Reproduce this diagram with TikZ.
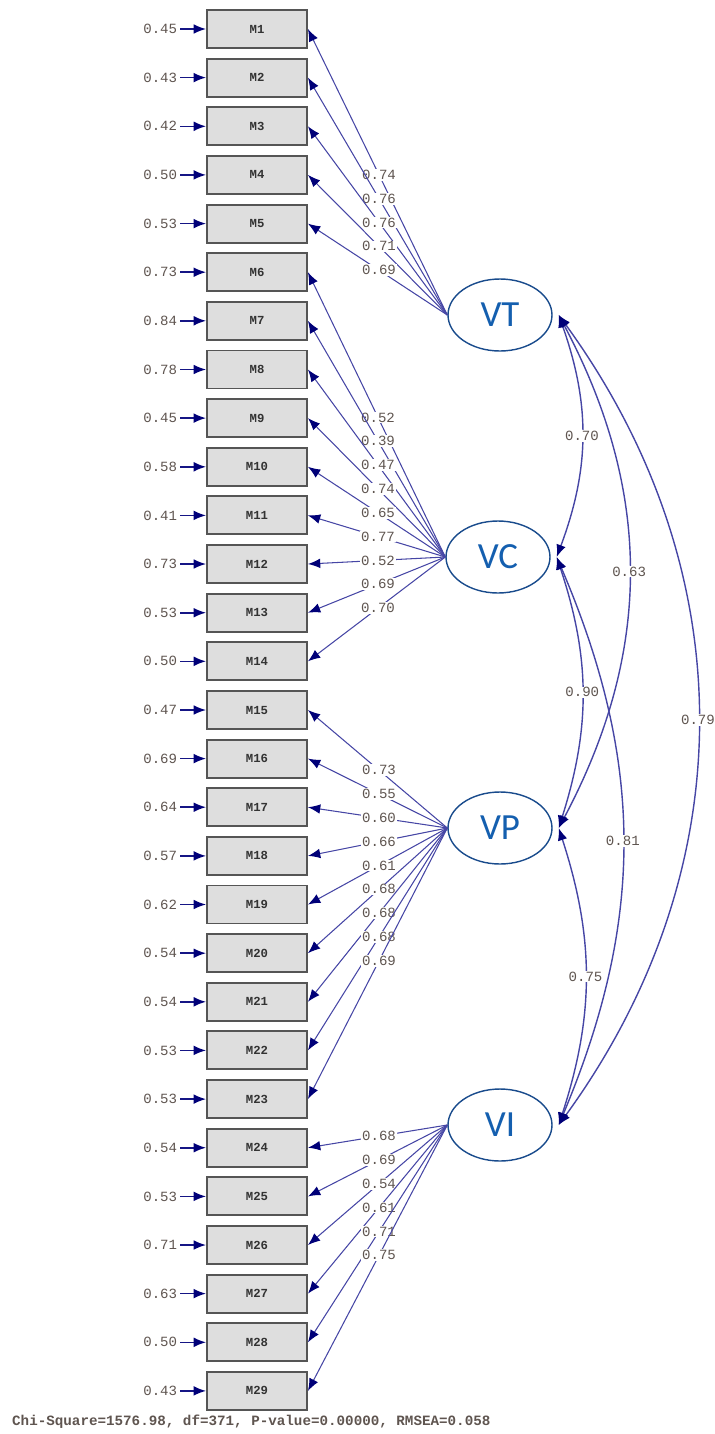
\documentclass[tikz,border=0pt]{standalone}
\usepackage{fontspec}
\setmainfont{Liberation Sans}
\newfontfamily\monofont{Liberation Mono}
\newfontfamily\latfont{Carlito}
\usetikzlibrary{shapes.geometric,arrows.meta,positioning}

\definecolor{linie}{RGB}{70,70,165}
\definecolor{spitze}{RGB}{0,0,120}
\definecolor{zahl}{RGB}{95,85,80}
\definecolor{kasten}{RGB}{222,222,222}
\definecolor{rand}{RGB}{85,85,85}
\definecolor{ellrand}{RGB}{25,75,140}
\definecolor{lattext}{RGB}{20,95,175}

\tikzset{
  mvar/.style={draw=rand, line width=1.1pt, fill=kasten, minimum width=2cm, minimum height=0.76cm, inner sep=0pt, font=\monofont\fontsize{7}{8}\selectfont\bfseries, text=black!80},
  lvar/.style={ellipse, draw=ellrand, line width=0.8pt, minimum width=2.08cm, minimum height=1.44cm, inner sep=0pt, font=\latfont\fontsize{21}{24}\selectfont, text=lattext},
  fehler/.style={font=\monofont\fontsize{8}{9}\selectfont, text=zahl, inner sep=1.5pt},
  wert/.style={fill=white, font=\monofont\fontsize{8}{9}\selectfont, text=zahl, inner sep=0.6pt},
  fpfeil/.style={draw=spitze!70!linie, line width=0.9pt, -{Latex[length=7pt,width=5.5pt,color=spitze]}},
  pfeil/.style={draw=linie, line width=0.6pt, -{Latex[length=7pt,width=5.5pt,color=spitze]}},
  kurve/.style={draw=linie, line width=0.8pt, {Latex[length=7pt,width=5.5pt,color=spitze]}-{Latex[length=7pt,width=5.5pt,color=spitze]}},
}

\begin{document}
\begin{tikzpicture}[x=0.02cm, y=-0.02cm]
    \useasboundingbox (0,0) rectangle (715,1434);

    % Indikatoren mit Fehlervarianzen
    \node[mvar] (m1) at (257,29) {M1};       \node[fehler, left=0.52cm of m1] (e1) {0.45};
    \node[mvar] (m2) at (257,77.6) {M2};     \node[fehler, left=0.52cm of m2] (e2) {0.43};
    \node[mvar] (m3) at (257,126.3) {M3};    \node[fehler, left=0.52cm of m3] (e3) {0.42};
    \node[mvar] (m4) at (257,174.9) {M4};    \node[fehler, left=0.52cm of m4] (e4) {0.50};
    \node[mvar] (m5) at (257,223.6) {M5};    \node[fehler, left=0.52cm of m5] (e5) {0.53};
    \node[mvar] (m6) at (257,272.2) {M6};    \node[fehler, left=0.52cm of m6] (e6) {0.73};
    \node[mvar] (m7) at (257,320.8) {M7};    \node[fehler, left=0.52cm of m7] (e7) {0.84};
    \node[mvar] (m8) at (257,369.5) {M8};    \node[fehler, left=0.52cm of m8] (e8) {0.78};
    \node[mvar] (m9) at (257,418.1) {M9};    \node[fehler, left=0.52cm of m9] (e9) {0.45};
    \node[mvar] (m10) at (257,466.8) {M10};  \node[fehler, left=0.52cm of m10] (e10) {0.58};
    \node[mvar] (m11) at (257,515.4) {M11};  \node[fehler, left=0.52cm of m11] (e11) {0.41};
    \node[mvar] (m12) at (257,564.0) {M12};  \node[fehler, left=0.52cm of m12] (e12) {0.73};
    \node[mvar] (m13) at (257,612.7) {M13};  \node[fehler, left=0.52cm of m13] (e13) {0.53};
    \node[mvar] (m14) at (257,661.3) {M14};  \node[fehler, left=0.52cm of m14] (e14) {0.50};
    \node[mvar] (m15) at (257,710.0) {M15};  \node[fehler, left=0.52cm of m15] (e15) {0.47};
    \node[mvar] (m16) at (257,758.6) {M16};  \node[fehler, left=0.52cm of m16] (e16) {0.69};
    \node[mvar] (m17) at (257,807.2) {M17};  \node[fehler, left=0.52cm of m17] (e17) {0.64};
    \node[mvar] (m18) at (257,855.9) {M18};  \node[fehler, left=0.52cm of m18] (e18) {0.57};
    \node[mvar] (m19) at (257,904.5) {M19};  \node[fehler, left=0.52cm of m19] (e19) {0.62};
    \node[mvar] (m20) at (257,953.2) {M20};  \node[fehler, left=0.52cm of m20] (e20) {0.54};
    \node[mvar] (m21) at (257,1001.8) {M21}; \node[fehler, left=0.52cm of m21] (e21) {0.54};
    \node[mvar] (m22) at (257,1050.4) {M22}; \node[fehler, left=0.52cm of m22] (e22) {0.53};
    \node[mvar] (m23) at (257,1099.1) {M23}; \node[fehler, left=0.52cm of m23] (e23) {0.53};
    \node[mvar] (m24) at (257,1147.7) {M24}; \node[fehler, left=0.52cm of m24] (e24) {0.54};
    \node[mvar] (m25) at (257,1196.4) {M25}; \node[fehler, left=0.52cm of m25] (e25) {0.53};
    \node[mvar] (m26) at (257,1245.0) {M26}; \node[fehler, left=0.52cm of m26] (e26) {0.71};
    \node[mvar] (m27) at (257,1293.6) {M27}; \node[fehler, left=0.52cm of m27] (e27) {0.63};
    \node[mvar] (m28) at (257,1342.3) {M28}; \node[fehler, left=0.52cm of m28] (e28) {0.50};
    \node[mvar] (m29) at (257,1390.9) {M29}; \node[fehler, left=0.52cm of m29] (e29) {0.43};

    \draw[fpfeil] (e1) -- (m1);   \draw[fpfeil] (e2) -- (m2);   \draw[fpfeil] (e3) -- (m3);
    \draw[fpfeil] (e4) -- (m4);   \draw[fpfeil] (e5) -- (m5);   \draw[fpfeil] (e6) -- (m6);
    \draw[fpfeil] (e7) -- (m7);   \draw[fpfeil] (e8) -- (m8);   \draw[fpfeil] (e9) -- (m9);
    \draw[fpfeil] (e10) -- (m10); \draw[fpfeil] (e11) -- (m11); \draw[fpfeil] (e12) -- (m12);
    \draw[fpfeil] (e13) -- (m13); \draw[fpfeil] (e14) -- (m14); \draw[fpfeil] (e15) -- (m15);
    \draw[fpfeil] (e16) -- (m16); \draw[fpfeil] (e17) -- (m17); \draw[fpfeil] (e18) -- (m18);
    \draw[fpfeil] (e19) -- (m19); \draw[fpfeil] (e20) -- (m20); \draw[fpfeil] (e21) -- (m21);
    \draw[fpfeil] (e22) -- (m22); \draw[fpfeil] (e23) -- (m23); \draw[fpfeil] (e24) -- (m24);
    \draw[fpfeil] (e25) -- (m25); \draw[fpfeil] (e26) -- (m26); \draw[fpfeil] (e27) -- (m27);
    \draw[fpfeil] (e28) -- (m28); \draw[fpfeil] (e29) -- (m29);

    % Latente Variablen
    \node[lvar] (VT) at (500,315) {VT};
    \node[lvar] (VC) at (498,557) {VC};
    \node[lvar] (VP) at (500,828) {VP};
    \node[lvar] (VI) at (500,1125) {VI};

    % Ladungen VT
    \draw[pfeil] (VT.west) -- node[wert, pos=0.49] {0.74} (m1.east);
    \draw[pfeil] (VT.west) -- node[wert, pos=0.49] {0.76} (m2.east);
    \draw[pfeil] (VT.west) -- node[wert, pos=0.49] {0.76} (m3.east);
    \draw[pfeil] (VT.west) -- node[wert, pos=0.49] {0.71} (m4.east);
    \draw[pfeil] (VT.west) -- node[wert, pos=0.49] {0.69} (m5.east);

    % Ladungen VC
    \draw[pfeil] (VC.west) -- node[wert, pos=0.49] {0.52} (m6.east);
    \draw[pfeil] (VC.west) -- node[wert, pos=0.49] {0.39} (m7.east);
    \draw[pfeil] (VC.west) -- node[wert, pos=0.49] {0.47} (m8.east);
    \draw[pfeil] (VC.west) -- node[wert, pos=0.49] {0.74} (m9.east);
    \draw[pfeil] (VC.west) -- node[wert, pos=0.49] {0.65} (m10.east);
    \draw[pfeil] (VC.west) -- node[wert, pos=0.49] {0.77} (m11.east);
    \draw[pfeil] (VC.west) -- node[wert, pos=0.49] {0.52} (m12.east);
    \draw[pfeil] (VC.west) -- node[wert, pos=0.49] {0.69} (m13.east);
    \draw[pfeil] (VC.west) -- node[wert, pos=0.49] {0.70} (m14.east);

    % Ladungen VP
    \draw[pfeil] (VP.west) -- node[wert, pos=0.49] {0.73} (m15.east);
    \draw[pfeil] (VP.west) -- node[wert, pos=0.49] {0.55} (m16.east);
    \draw[pfeil] (VP.west) -- node[wert, pos=0.49] {0.60} (m17.east);
    \draw[pfeil] (VP.west) -- node[wert, pos=0.49] {0.66} (m18.east);
    \draw[pfeil] (VP.west) -- node[wert, pos=0.49] {0.61} (m19.east);
    \draw[pfeil] (VP.west) -- node[wert, pos=0.49] {0.68} (m20.east);
    \draw[pfeil] (VP.west) -- node[wert, pos=0.49] {0.68} (m21.east);
    \draw[pfeil] (VP.west) -- node[wert, pos=0.49] {0.68} (m22.east);
    \draw[pfeil] (VP.west) -- node[wert, pos=0.49] {0.69} (m23.east);

    % Ladungen VI
    \draw[pfeil] (VI.west) -- node[wert, pos=0.49] {0.68} (m24.east);
    \draw[pfeil] (VI.west) -- node[wert, pos=0.49] {0.69} (m25.east);
    \draw[pfeil] (VI.west) -- node[wert, pos=0.49] {0.54} (m26.east);
    \draw[pfeil] (VI.west) -- node[wert, pos=0.49] {0.61} (m27.east);
    \draw[pfeil] (VI.west) -- node[wert, pos=0.49] {0.71} (m28.east);
    \draw[pfeil] (VI.west) -- node[wert, pos=0.49] {0.75} (m29.east);

    % Korrelationen
    \coordinate (vt) at ([xshift=0.12cm]VT.east);
    \coordinate (vc) at ([xshift=0.12cm]VC.east);
    \coordinate (vp) at ([xshift=0.12cm]VP.east);
    \coordinate (vi) at ([xshift=0.12cm]VI.east);
    \draw[kurve] (vt) to[bend left=20] node[wert] {0.70} (vc);
    \draw[kurve] (vt) to[bend left=28] node[wert] {0.63} (vp);
    \draw[kurve] (vt) to[bend left=36] node[wert] {0.79} (vi);
    \draw[kurve] (vc) to[bend left=18] node[wert] {0.90} (vp);
    \draw[kurve] (vc) to[bend left=23] node[wert] {0.81} (vi);
    \draw[kurve] (vp) to[bend left=18] node[wert] {0.75} (vi);

    % Anpassungsgüte
    \node[anchor=west, font=\monofont\fontsize{8.1}{9}\selectfont\bfseries, text=zahl] (fit) at (6,1422) {Chi-Square=1576.98, df=371, P-value=0.00000, RMSEA=0.058};
\end{tikzpicture}
\end{document}
